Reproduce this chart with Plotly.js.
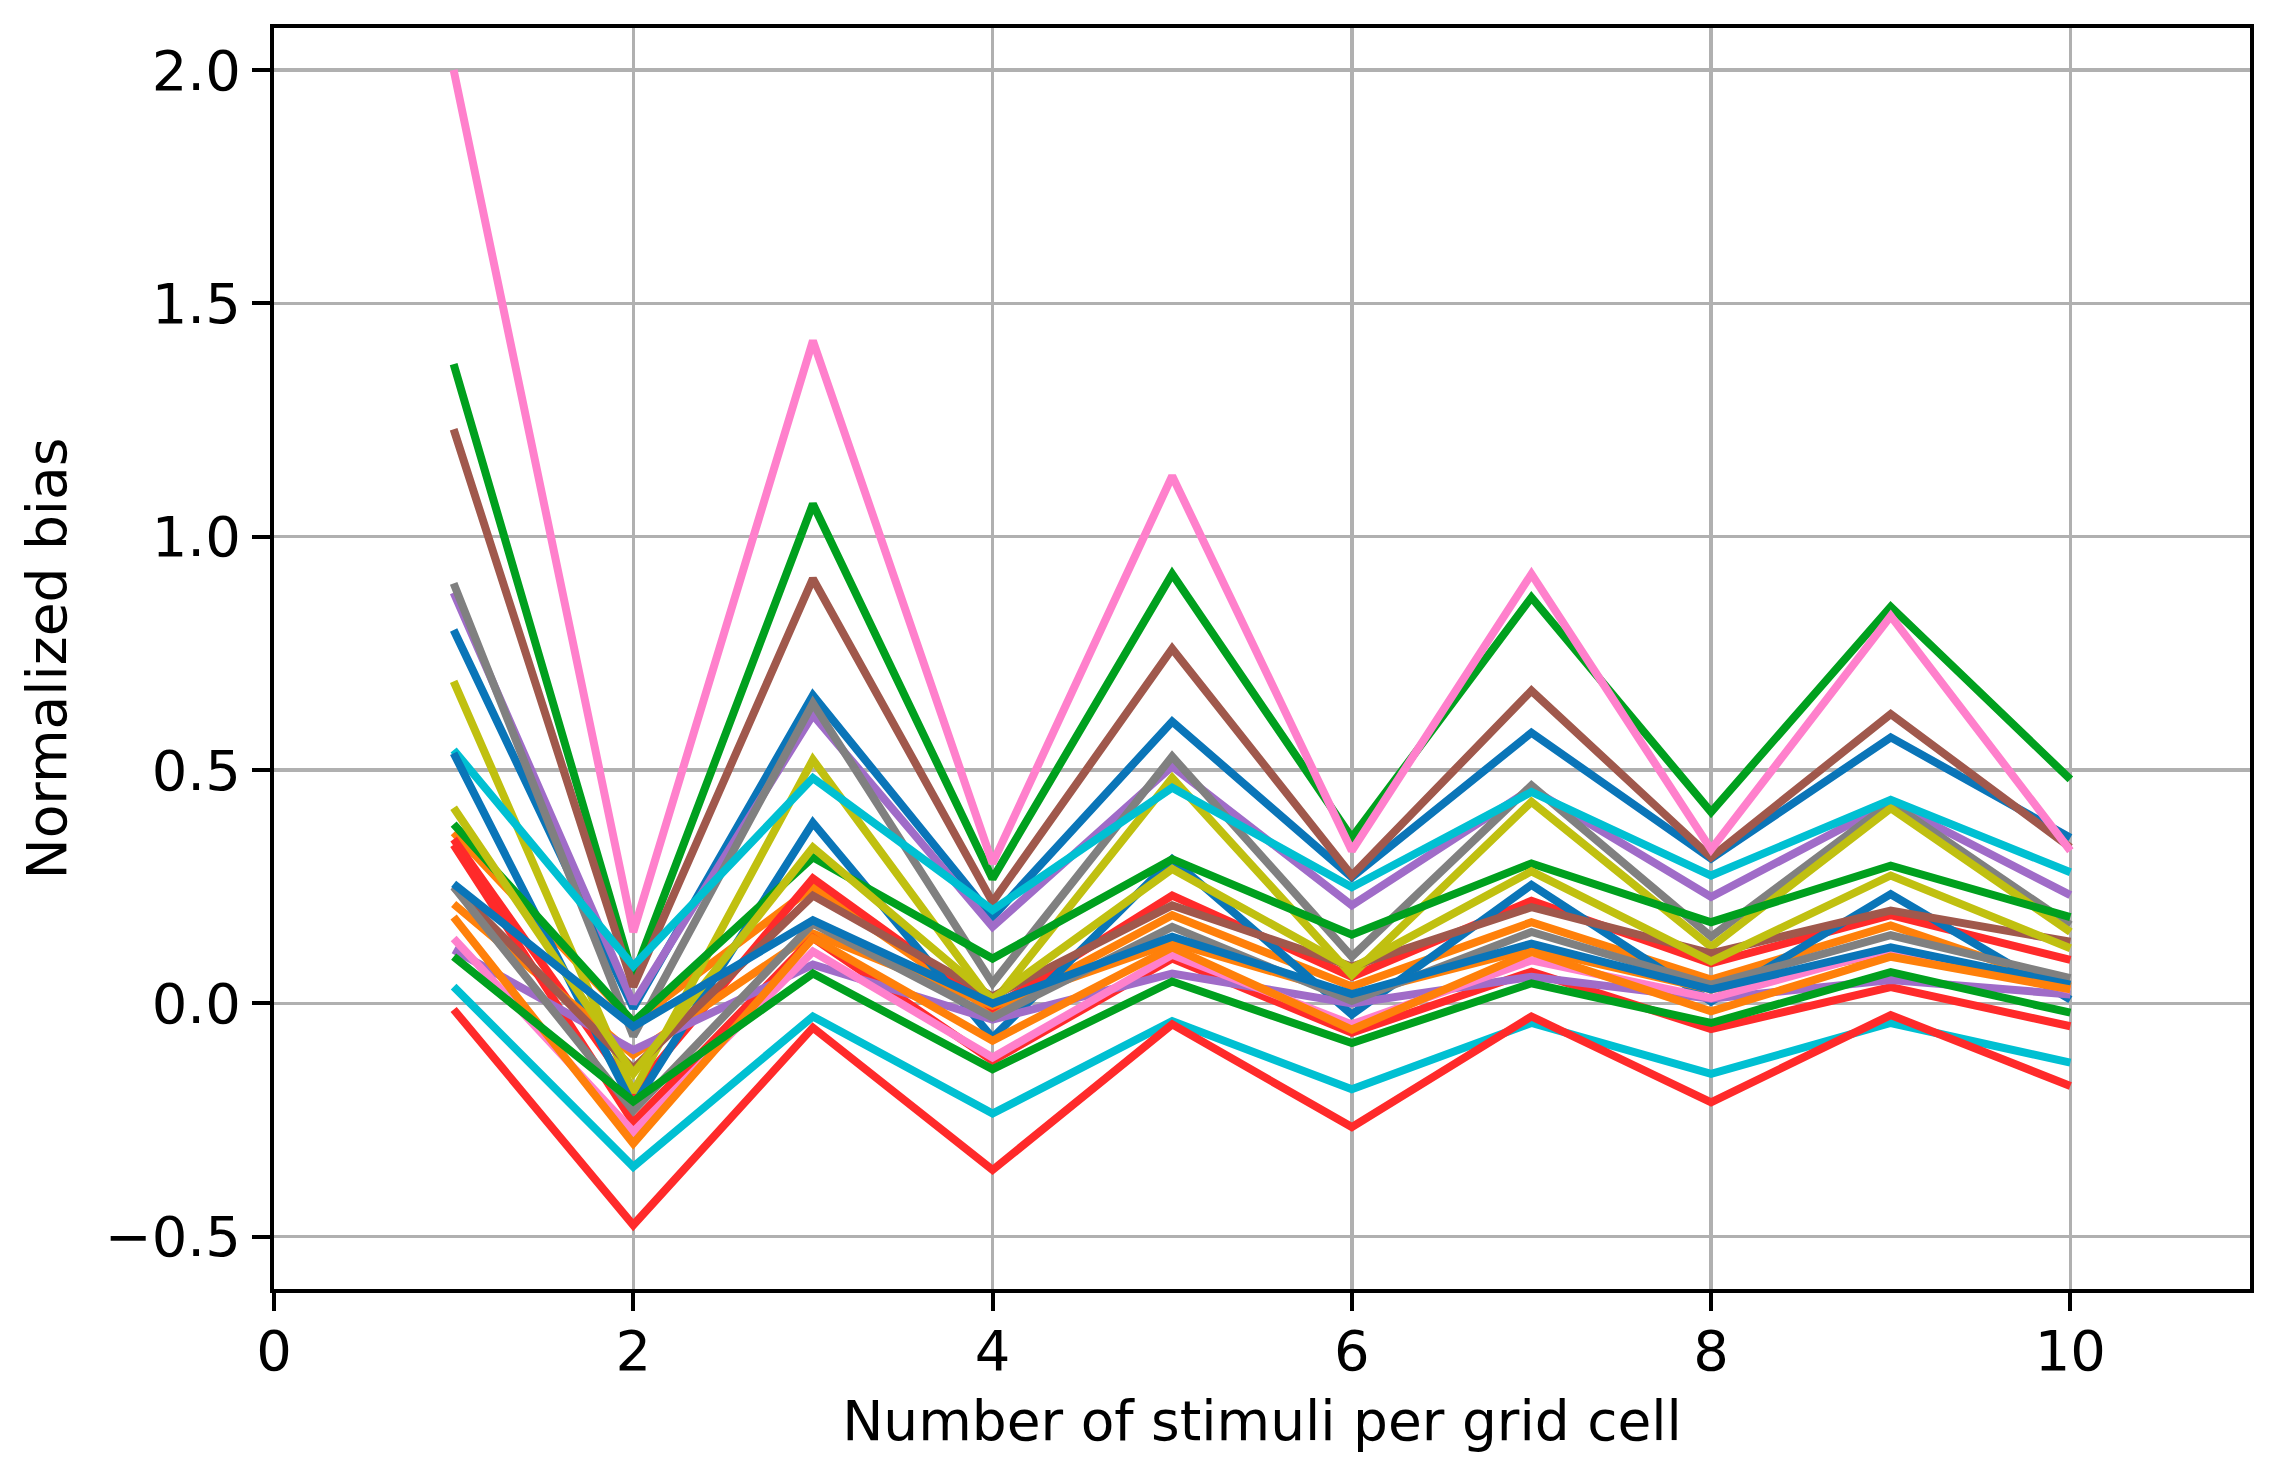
<!DOCTYPE html>
<html>
<head>
<meta charset="utf-8">
<script src="https://cdn.plot.ly/plotly-3.0.1.min.js"></script>
<style>
  body { margin: 0; background: #fff; }
  #plot { width: 2275px; height: 1479px; }
</style>
</head>
<body>
<div id="plot"></div>
<script>
var stimuli = [1, 2, 3, 4, 5, 6, 7, 8, 9, 10];

// one array per curve
var blueA   = [0.80, -0.01, 0.66, 0.185, 0.604, 0.27, 0.58, 0.31, 0.57, 0.355];
var orangeA = [0.366, -0.04, 0.249, -0.017, 0.189, 0.036, 0.174, 0.051, 0.167, 0.036];
var greenA  = [1.37, 0.057, 1.07, 0.267, 0.92, 0.355, 0.87, 0.41, 0.85, 0.48];
var redA    = [0.352, -0.19, 0.268, -0.01, 0.231, 0.057, 0.22, 0.086, 0.189, 0.093];
var purpleA = [0.88, 0.0, 0.618, 0.164, 0.508, 0.21, 0.46, 0.228, 0.43, 0.232];
var brownA  = [1.23, 0.036, 0.91, 0.217, 0.76, 0.274, 0.67, 0.313, 0.62, 0.334];
var pinkA   = [2.0, 0.153, 1.42, 0.30, 1.13, 0.327, 0.92, 0.33, 0.83, 0.327];
var grayA   = [0.90, -0.07, 0.643, 0.043, 0.529, 0.10, 0.467, 0.143, 0.43, 0.168];
var oliveA  = [0.69, -0.19, 0.522, 0.0, 0.483, 0.061, 0.432, 0.121, 0.418, 0.153];
var cyanA   = [0.543, 0.08, 0.483, 0.20, 0.462, 0.249, 0.453, 0.274, 0.436, 0.281];
var blueB   = [0.536, -0.22, 0.387, -0.074, 0.309, -0.024, 0.254, 0.004, 0.234, 0.008];
var orangeB = [0.213, -0.11, 0.15, -0.005, 0.13, 0.019, 0.117, 0.03, 0.11, 0.04];
var greenB  = [0.384, -0.04, 0.313, 0.096, 0.309, 0.147, 0.30, 0.174, 0.295, 0.185];
var redB    = [0.34, -0.255, 0.14, -0.123, 0.096, -0.063, 0.068, -0.055, 0.035, -0.049];
var purpleB = [0.115, -0.10, 0.083, -0.035, 0.064, 0.0, 0.057, 0.01, 0.05, 0.019];
var brownB  = [0.25, -0.14, 0.231, 0.015, 0.21, 0.079, 0.206, 0.107, 0.199, 0.132];
var pinkB   = [0.139, -0.275, 0.111, -0.116, 0.104, -0.045, 0.092, 0.011, 0.117, 0.029];
var grayB   = [0.25, -0.23, 0.171, -0.03, 0.164, 0.005, 0.153, 0.04, 0.146, 0.054];
var oliveB  = [0.419, -0.15, 0.334, 0.01, 0.288, 0.075, 0.283, 0.09, 0.274, 0.118];
var cyanB   = [0.036, -0.35, -0.028, -0.236, -0.038, -0.184, -0.042, -0.151, -0.042, -0.127];
var blueC   = [0.256, -0.05, 0.178, 0.0, 0.143, 0.02, 0.128, 0.03, 0.12, 0.04];
var orangeC = [0.185, -0.30, 0.14, -0.08, 0.12, -0.056, 0.11, -0.017, 0.10, 0.03];
var greenC  = [0.10, -0.21, 0.064, -0.141, 0.047, -0.085, 0.043, -0.042, 0.067, -0.02];
var redC    = [-0.013, -0.475, -0.052, -0.357, -0.045, -0.265, -0.028, -0.212, -0.025, -0.177];

var curves = [blueA, orangeA, greenA, redA, purpleA, brownA, pinkA, grayA, oliveA, cyanA,
              blueB, orangeB, greenB, redB, purpleB, brownB, pinkB, grayB, oliveB, cyanB,
              blueC, orangeC, greenC, redC];

var colors = ['#0a75b8', '#ff800a', '#00a01e', '#ff2a2a', '#a06cc8',
              '#a0584c', '#ff80cc', '#808080', '#c0c010', '#00c0d2'];

var yTickVals = [-0.5, 0, 0.5, 1, 1.5, 2];
var yTickText = ['\u22120.5', '0.0', '0.5', '1.0', '1.5', '2.0'];
var xTickVals = [0, 2, 4, 6, 8, 10];

var data = [];
for (var i = 0; i < curves.length; i++) {
  data.push({
    x: stimuli,
    y: curves[i],
    type: 'scatter',
    mode: 'lines',
    line: { color: colors[i % colors.length], width: 8 },
    hoverinfo: 'skip'
  });
}

var tickFont = { family: 'DejaVu Sans', size: 56, color: '#000' };
var labelFont = { family: 'DejaVu Sans', size: 55, color: '#000' };

var layout = {
  width: 2275,
  height: 1479,
  margin: { l: 274, r: 25, t: 28, b: 190 },
  paper_bgcolor: '#fff',
  plot_bgcolor: '#fff',
  showlegend: false,
  font: labelFont,
  xaxis: {
    range: [0, 11],
    tickvals: xTickVals,
    ticks: 'outside',
    ticklen: 18,
    tickwidth: 4,
    tickcolor: '#000',
    ticklabelstandoff: -8,
    showgrid: true,
    gridcolor: '#b0b0b0',
    gridwidth: 3.5,
    zeroline: false,
    showline: true,
    mirror: true,
    linecolor: '#000',
    linewidth: 4,
    tickfont: tickFont,
    title: { text: 'Number of stimuli per grid cell', font: labelFont, standoff: 20 }
  },
  yaxis: {
    range: [-0.612, 2.09],
    tickvals: yTickVals,
    ticktext: yTickText,
    ticks: 'outside',
    ticklen: 18,
    tickwidth: 4,
    tickcolor: '#000',
    showgrid: true,
    gridcolor: '#b0b0b0',
    gridwidth: 3.5,
    zeroline: false,
    showline: true,
    mirror: true,
    linecolor: '#000',
    linewidth: 4,
    automargin: true,
    tickfont: tickFont,
    title: { text: 'Normalized bias', font: labelFont, standoff: 22 }
  }
};

Plotly.newPlot('plot', data, layout, { staticPlot: true });
</script>
</body>
</html>
